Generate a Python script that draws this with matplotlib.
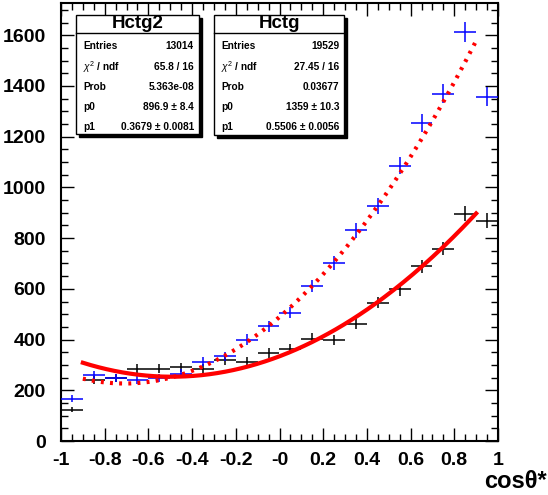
import matplotlib.pyplot as plt
from matplotlib.patches import Rectangle
from matplotlib.ticker import MultipleLocator, FixedLocator
import numpy as np

plt.rcParams['font.family'] = ['Liberation Sans', 'DejaVu Sans']
plt.rcParams['mathtext.fontset'] = 'custom'
plt.rcParams['mathtext.rm'] = 'Liberation Sans'
plt.rcParams['mathtext.it'] = 'Liberation Sans:italic'

# histogram bins: 20 bins of width 0.1 on [-1, 1]
bin_centers = np.arange(-0.95, 1.0, 0.1)

# blue histogram (Hctg2) - dotted fit
blue_counts = [167, 259, 250, 242, 250, 266, 312, 334, 400, 452,
               506, 611, 702, 831, 927, 1085, 1252, 1370, 1613, 1357]
# black histogram (Hctg) - solid fit
black_counts = [124, 242, 250, 285, 285, 290, 285, 318, 312, 347,
                364, 404, 397, 463, 546, 598, 689, 759, 897, 868]

# fit curves (quadratic coefficients, highest power first)
dotted_fit = [522, 740, 489]
solid_fit = [332, 327, 334]
fit_range = (-0.9, 0.9)

x_ticks = [-1, -0.8, -0.6, -0.4, -0.2, 0, 0.2, 0.4, 0.6, 0.8, 1]
x_ticklabels = ['-1', '-0.8', '-0.6', '-0.4', '-0.2', '-0', '0.2', '0.4', '0.6', '0.8', '1']
y_ticks = [0, 200, 400, 600, 800, 1000, 1200, 1400, 1600]

stat_hctg2 = [('Entries', '13014'), (r'$\chi^{2}$ / ndf', '65.8 / 16'),
              ('Prob', '5.363e-08'), ('p0', '896.9 ± 8.4'), ('p1', '0.3679 ± 0.0081')]
stat_hctg = [('Entries', '19529'), (r'$\chi^{2}$ / ndf', '27.45 / 16'),
             ('Prob', '0.03677'), ('p0', '1359 ± 10.3'), ('p1', '0.5506 ± 0.0056')]

W, H = 548, 495
fig = plt.figure(figsize=(W / 100, H / 100), dpi=100)
fig.patch.set_facecolor('white')

def fx(x): return x / W
def fy(y): return 1 - y / H

ax = fig.add_axes([fx(61), fy(441), fx(498) - fx(61), fy(3) - fy(441)])
ax.set_xlim(-1, 1)
ax.set_ylim(0, 1727)

err_b = np.sqrt(black_counts)
err_u = np.sqrt(blue_counts)
ax.errorbar(bin_centers, black_counts, xerr=0.05, yerr=err_b, fmt='none',
            ecolor='black', elinewidth=1.1, capsize=0, zorder=2)
ax.errorbar(bin_centers, blue_counts, xerr=0.05, yerr=err_u, fmt='none',
            ecolor='#0000ff', elinewidth=1.1, capsize=0, zorder=3)

xf = np.linspace(fit_range[0], fit_range[1], 200)
ax.plot(xf, np.polyval(solid_fit, xf), color='#ff0000', lw=3, zorder=4)
ax.plot(xf, np.polyval(dotted_fit, xf), color='#ff0000', lw=3,
        linestyle=(0, (0.7, 1.5)), dash_capstyle='butt', zorder=4)

ax.xaxis.set_major_locator(FixedLocator(x_ticks))
ax.set_xticklabels(x_ticklabels)
ax.xaxis.set_minor_locator(MultipleLocator(0.05))
ax.yaxis.set_major_locator(FixedLocator(y_ticks))
ax.yaxis.set_minor_locator(MultipleLocator(50))
ax.tick_params(which='both', direction='in', top=True, right=True, width=1.0)
ax.tick_params(which='major', length=9.5)
ax.tick_params(which='minor', length=5)
ax.tick_params(axis='x', pad=8, labelsize=14)
ax.tick_params(axis='y', pad=11, labelsize=14)
for lab in ax.get_xticklabels() + ax.get_yticklabels():
    lab.set_fontweight('bold')
for sp in ax.spines.values():
    sp.set_linewidth(1.5)

fig.text(fx(547), fy(482), 'cosθ*', ha='right', va='center',
         fontsize=17, fontweight='bold')

def stat_box(left, right, top, bottom, title, rows):
    sh = 3
    fig.patches.append(Rectangle((fx(left + sh), fy(bottom + sh)),
                                 fx(right - left), fy(top) - fy(bottom),
                                 transform=fig.transFigure, facecolor='black',
                                 edgecolor='black', zorder=5))
    fig.patches.append(Rectangle((fx(left), fy(bottom)), fx(right - left),
                                 fy(top) - fy(bottom), transform=fig.transFigure,
                                 facecolor='white', edgecolor='black', lw=1,
                                 zorder=6))
    fig.lines.append(plt.Line2D([fx(left), fx(right)], [fy(33), fy(33)],
                                transform=fig.transFigure, color='black',
                                lw=1, zorder=7))
    fig.text(fx((left + right) / 2), fy(24), title, ha='center', va='center',
             fontsize=13.5, fontweight='bold', zorder=8)
    ys = [46, 67, 87, 107, 127]
    for (k, v), yy in zip(rows, ys):
        fig.text(fx(left + 7), fy(yy), k, ha='left', va='center',
                 fontsize=7.3, fontweight='bold', zorder=8)
        fig.text(fx(right - 5), fy(yy), v, ha='right', va='center',
                 fontsize=7.3, fontweight='bold', zorder=8)

stat_box(76, 199, 15, 134, 'Hctg2', stat_hctg2)
stat_box(214, 344, 15, 135, 'Hctg', stat_hctg)

fig.savefig('out.png', dpi=100)
